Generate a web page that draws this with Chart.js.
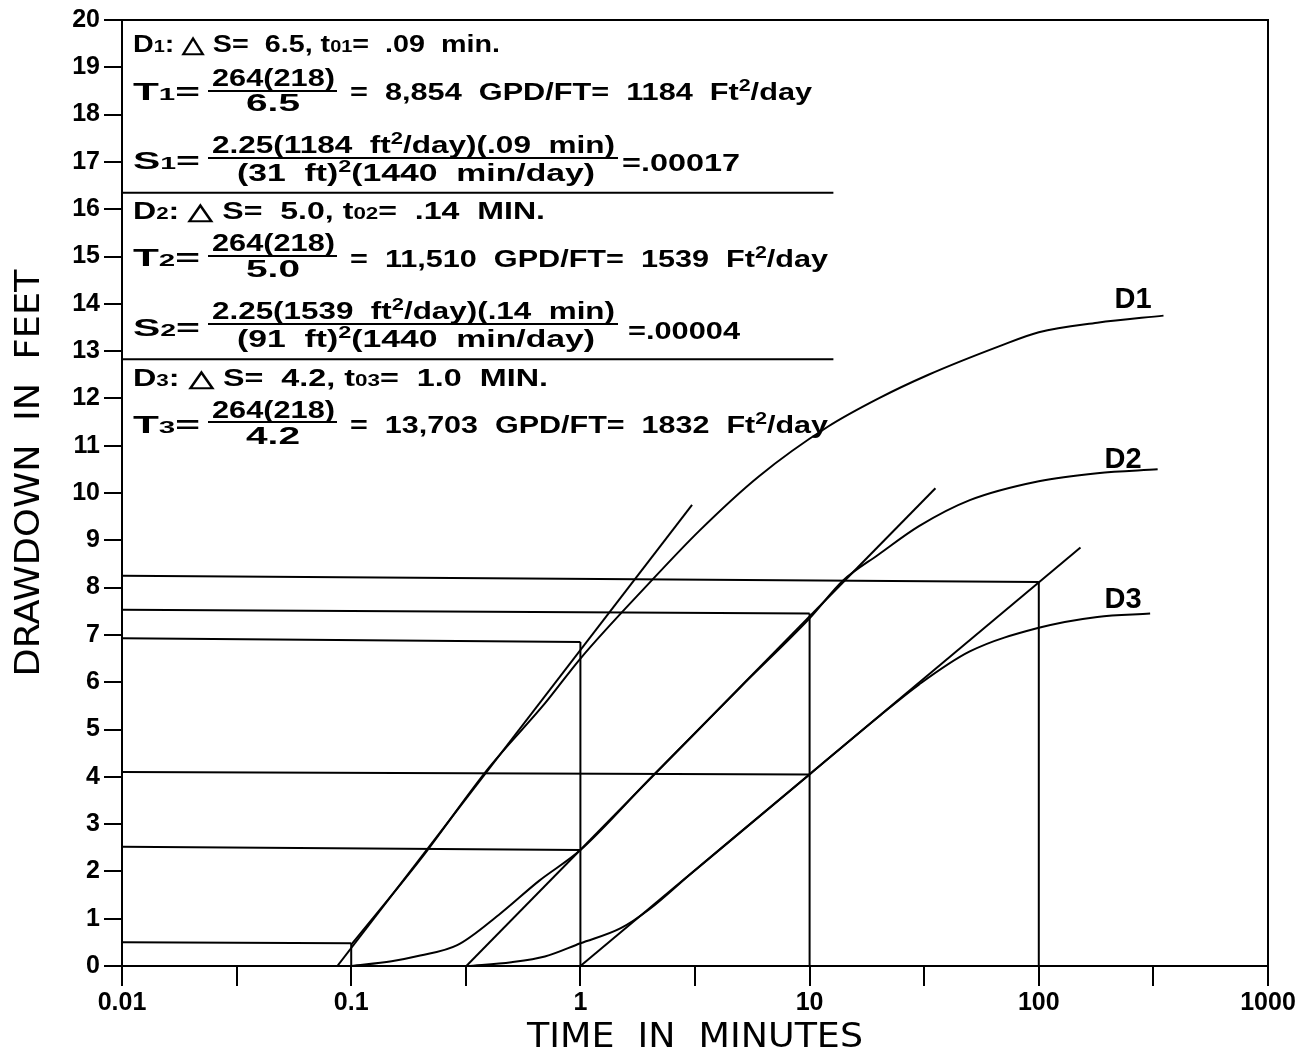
<!DOCTYPE html>
<html>
<head>
<meta charset="utf-8">
<script src="https://cdn.jsdelivr.net/npm/chart.js@4.4.1/dist/chart.umd.min.js"></script>
<style>
  html, body { margin: 0; padding: 0; background: #fff; }
  #wrap { width: 1305px; height: 1056px; position: relative; }
</style>
</head>
<body>
<div id="wrap"><canvas id="drawdown-chart"></canvas></div>
<script>
// tiempos (min) y abatimientos (ft)
const d1Time = [0.1, 0.2, 0.4, 0.7, 1, 2, 3.3, 6, 12, 20, 33, 67, 100, 180, 350];
const d1Drawdown = [0.45, 2.25, 4.2, 5.55, 6.5, 8.1, 9.2, 10.35, 11.4, 12.0, 12.5, 13.1, 13.4, 13.6, 13.75];

const d2Time = [0.1, 0.15, 0.2, 0.29, 0.44, 0.66, 1, 2, 3.16, 5, 10, 14, 20, 30, 50, 100, 180, 330];
const d2Drawdown = [0, 0.1, 0.22, 0.44, 1.08, 1.8, 2.45, 3.95, 4.92, 5.9, 7.35, 8.15, 8.7, 9.3, 9.85, 10.25, 10.42, 10.5];

const d3Time = [0.32, 0.5, 0.7, 1, 1.5, 2, 3, 5, 10, 20, 30, 50, 100, 180, 306];
const d3Drawdown = [0, 0.08, 0.2, 0.48, 0.8, 1.2, 1.93, 2.83, 4.05, 5.27, 5.95, 6.65, 7.15, 7.38, 7.45];

// rectas de ajuste (semi-log)
const fitTimes = [[0.087, 3.07], [0.318, 35.4], [1.0, 152]];
const fitDrawdowns = [[0, 9.75], [0, 10.1], [0, 8.85]];

// lineas de lectura horizontales y verticales
const refLeftLevel = [0.5, 6.93, 2.52, 7.53, 4.1, 8.25];
const refRightLevel = [0.48, 6.85, 2.45, 7.45, 4.05, 8.12];
const refEndTime = [0.1, 1, 1, 10, 10, 100];
const dropTime = [0.1, 1, 10, 100];
const dropTop = [0.48, 6.85, 7.45, 8.12];

const seriesNames = ['D1', 'D2', 'D3'];
const nameTime = [258, 233, 233];
const nameLevel = [14.08, 10.7, 7.74];

const xTickValues = [0.01, 0.0316, 0.1, 0.316, 1, 3.16, 10, 31.6, 100, 316, 1000];
const xTickLabels = ['0.01', '', '0.1', '', '1', '', '10', '', '100', '', '1000'];

const boxSeparators = [16.35, 12.83];
const boxEndTime = 12.7;

const INK = '#000';
const FORMULA_FONT = '"Liberation Sans", Arial, sans-serif';

function toPoints(xs, ys) {
    return xs.map((x, i) => ({ x: x, y: ys[i] }));
}

const datasets = [];
[[d1Time, d1Drawdown], [d2Time, d2Drawdown], [d3Time, d3Drawdown]].forEach((pair) => {
    datasets.push({
        data: toPoints(pair[0], pair[1]),
        borderColor: INK, borderWidth: 2, pointRadius: 0,
        cubicInterpolationMode: 'monotone', fill: false
    });
});
fitTimes.forEach((xs, i) => {
    datasets.push({ data: toPoints(xs, fitDrawdowns[i]), borderColor: INK, borderWidth: 2, pointRadius: 0, tension: 0 });
});
refLeftLevel.forEach((lvl, i) => {
    datasets.push({ data: toPoints([0.01, refEndTime[i]], [lvl, refRightLevel[i]]), borderColor: INK, borderWidth: 2, pointRadius: 0 });
});
dropTime.forEach((t, i) => {
    datasets.push({ data: toPoints([t, t], [0, dropTop[i]]), borderColor: INK, borderWidth: 2, pointRadius: 0 });
});

// texto con subindices _{..} y superindices ^{..}
function parseRich(str) {
    const segs = [];
    const re = /([_^])\{([^}]*)\}/g;
    let last = 0, m;
    while ((m = re.exec(str))) {
        if (m.index > last) segs.push({ t: str.slice(last, m.index), k: 'n' });
        segs.push({ t: m[2], k: m[1] === '_' ? 'sub' : 'sup' });
        last = re.lastIndex;
    }
    if (last < str.length) segs.push({ t: str.slice(last), k: 'n' });
    return segs;
}

function drawRich(ctx, str, x, yMid, size, w) {
    const segs = parseRich(str);
    const fontOf = (k) => 'bold ' + (k === 'n' ? size : Math.round(size * 0.68)) + 'px ' + FORMULA_FONT;
    let total = 0;
    segs.forEach((s) => { ctx.font = fontOf(s.k); s.w = ctx.measureText(s.t).width; total += s.w; });
    const sx = w ? w / total : 1;
    ctx.save();
    ctx.translate(x, yMid + size * 0.36);
    ctx.scale(sx, 1);
    let cx = 0;
    segs.forEach((s) => {
        ctx.font = fontOf(s.k);
        const dy = s.k === 'sup' ? -size * 0.42 : 0;
        ctx.fillText(s.t, cx, dy);
        cx += s.w;
    });
    ctx.restore();
}

function bar(ctx, x1, x2, y) {
    ctx.beginPath();
    ctx.moveTo(x1, y);
    ctx.lineTo(x2, y);
    ctx.stroke();
}

// bloques de formulas: [texto, x, y centro, ancho]
const formulaTexts = [
    ['D_{1}: \u25B3 S=  6.5, t_{01}=  .09  min.', 133, 44, 367],
    ['T_{1}=', 133, 92, 67], ['264(218)', 212, 78, 123], ['6.5', 246, 103, 54],
    ['=  8,854  GPD/FT=  1184  Ft^{2}/day', 350, 92, 462],
    ['S_{1}=', 133, 161, 67], ['2.25(1184  ft^{2}/day)(.09  min)', 212, 145, 403],
    ['(31  ft)^{2}(1440  min/day)', 237, 173, 358], ['=.00017', 622, 163, 118],
    ['D_{2}: \u25B3 S=  5.0, t_{02}=  .14  MIN.', 133, 211, 412],
    ['T_{2}=', 133, 258, 67], ['264(218)', 212, 243, 123], ['5.0', 246, 269, 54],
    ['=  11,510  GPD/FT=  1539  Ft^{2}/day', 350, 259, 478],
    ['S_{2}=', 133, 328, 67], ['2.25(1539  ft^{2}/day)(.14  min)', 212, 311, 403],
    ['(91  ft)^{2}(1440  min/day)', 237, 339, 358], ['=.00004', 628, 331, 112],
    ['D_{3}: \u25B3 S=  4.2, t_{03}=  1.0  MIN.', 133, 378, 415],
    ['T_{3}=', 133, 425, 67], ['264(218)', 212, 410, 123], ['4.2', 246, 436, 54],
    ['=  13,703  GPD/FT=  1832  Ft^{2}/day', 350, 425, 478]
];
const fractionBars = [[208, 337, 91], [208, 618, 158], [208, 337, 256], [208, 618, 324], [208, 337, 422]];

const annotationPlugin = {
    id: 'annotations',
    afterDraw(chart) {
        const ctx = chart.ctx;
        const a = chart.chartArea;
        const xs = chart.scales.x;
        const ys = chart.scales.y;
        ctx.save();
        ctx.strokeStyle = INK;
        ctx.fillStyle = INK;
        ctx.lineWidth = 2;
        // marco
        ctx.strokeRect(a.left, a.top, a.right - a.left, a.bottom - a.top);
        // separadores del cuadro de texto
        boxSeparators.forEach((lvl) => {
            bar(ctx, a.left, xs.getPixelForValue(boxEndTime), ys.getPixelForValue(lvl));
        });
        ctx.textAlign = 'left';
        ctx.textBaseline = 'alphabetic';
        formulaTexts.forEach((f) => drawRich(ctx, f[0], f[1], f[2], 23, f[3]));
        fractionBars.forEach((b) => bar(ctx, b[0], b[1], b[2]));
        // nombres de curvas
        ctx.font = 'bold 29px "Liberation Sans", Arial, sans-serif';
        ctx.textAlign = 'center';
        ctx.textBaseline = 'middle';
        seriesNames.forEach((n, i) => {
            ctx.fillText(n, xs.getPixelForValue(nameTime[i]), ys.getPixelForValue(nameLevel[i]));
        });
        // titulos de ejes
        ctx.font = '34px "Liberation Sans Narrow", "DejaVu Sans Condensed", sans-serif';
        ctx.save();
        ctx.translate(695, 1038);
        const tw = ctx.measureText('TIME  IN  MINUTES').width;
        ctx.scale(336 / tw, 1);
        ctx.fillText('TIME  IN  MINUTES', 0, 0);
        ctx.restore();
        ctx.save();
        ctx.translate(30, 473);
        ctx.rotate(-Math.PI / 2);
        const yw = ctx.measureText('DRAWDOWN  IN  FEET').width;
        ctx.scale(407 / yw, 1);
        ctx.fillText('DRAWDOWN  IN  FEET', 0, 0);
        ctx.restore();
        ctx.restore();
    }
};

const ctx = document.getElementById('drawdown-chart').getContext('2d');
const drawdownChart = new Chart(ctx, {
    type: 'line',
    data: { datasets: datasets },
    options: {
        responsive: true,
        maintainAspectRatio: false,
        animation: false,
        layout: { padding: { left: 0, right: 37, top: 20, bottom: 0 } },
        plugins: { legend: { display: false }, title: { display: false }, tooltip: { enabled: false } },
        scales: {
            x: {
                type: 'logarithmic',
                min: 0.01,
                max: 1000,
                afterBuildTicks: (scale) => { scale.ticks = xTickValues.map((v) => ({ value: v })); },
                afterFit: (scale) => { scale.height = 90; },
                ticks: {
                    autoSkip: false, maxRotation: 0, padding: 2, color: INK,
                    font: { family: '"Liberation Sans", Arial, sans-serif', size: 25, weight: 'bold' },
                    callback: (value, index) => xTickLabels[index]
                },
                grid: { drawOnChartArea: false, drawTicks: true, tickLength: 20, color: INK, lineWidth: 2 },
                border: { display: true, color: INK, width: 2 },
                title: { display: false }
            },
            y: {
                type: 'linear',
                min: 0,
                max: 20,
                afterFit: (scale) => { scale.width = 122; },
                ticks: {
                    stepSize: 1, padding: 4, color: INK,
                    font: { family: '"Liberation Sans", Arial, sans-serif', size: 25, weight: 'bold' }
                },
                grid: { drawOnChartArea: false, drawTicks: true, tickLength: 18, color: INK, lineWidth: 2 },
                border: { display: true, color: INK, width: 2 },
                title: { display: false }
            }
        }
    },
    plugins: [annotationPlugin]
});
</script>
</body>
</html>
